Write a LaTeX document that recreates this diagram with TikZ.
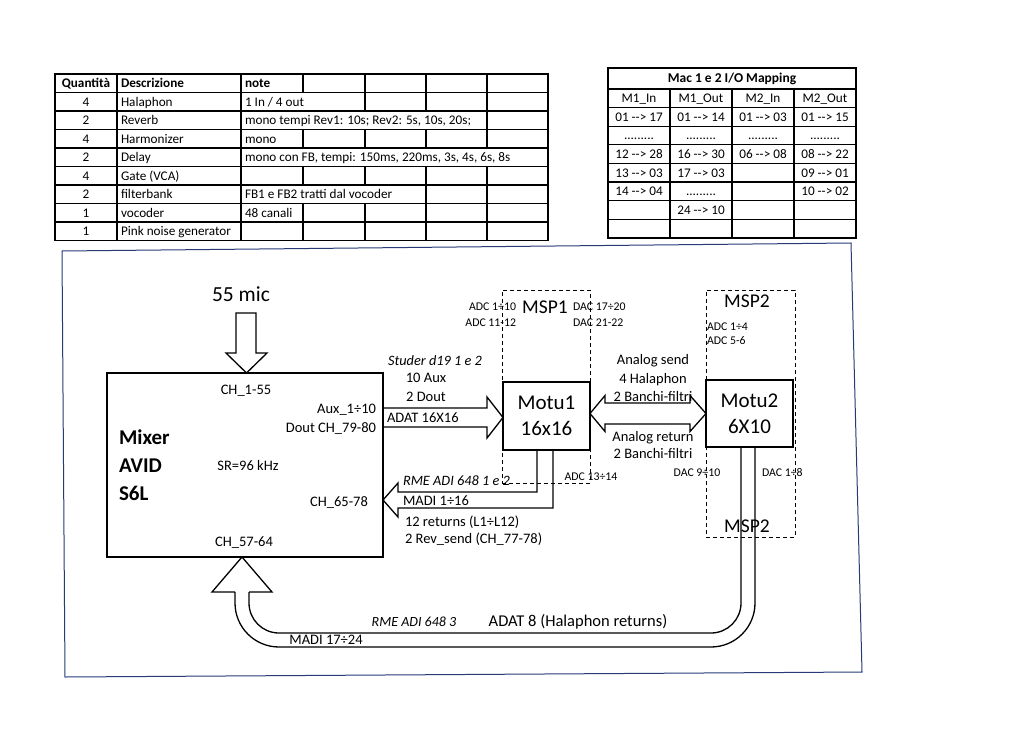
\documentclass[tikz,border=0pt]{standalone}
\usepackage{fontspec}
\setmainfont{Carlito}
\usetikzlibrary{calc}
\definecolor{framecol}{RGB}{38,58,118}
\newcommand{\vp}{\vphantom{Äg}}
\tikzset{
  every node/.style={inner sep=0pt, outer sep=0pt},
  tbl/.style={line width=1.1pt},
  tblout/.style={line width=1.8pt},
  ttxt/.style={font=\fontsize{13.2}{15}\selectfont, execute at begin node=\vp},
  thead/.style={font=\bfseries\fontsize{13.2}{15}\selectfont, execute at begin node=\vp},
  lbl/.style={font=\fontsize{14.5}{17}\selectfont, execute at begin node=\vp},
  ilbl/.style={font=\itshape\fontsize{14.3}{17}\selectfont, execute at begin node=\vp},
  sml/.style={font=\fontsize{11.8}{13}\selectfont, execute at begin node=\vp},
  big/.style={font=\fontsize{21}{26}\selectfont, align=center},
  box/.style={draw, line width=1.6pt, fill=white},
  mspbox/.style={draw, line width=1pt, dash pattern=on 4pt off 3pt},
  fat/.style={line width=1.3pt, line join=miter},
  frame/.style={draw=framecol, line width=1pt}
}
\begin{document}
\begin{tikzpicture}[x=1pt,y=-1pt]
\useasboundingbox (0,0) rectangle (1024,746);

% ---------------- left table ----------------
\draw[tblout] (55,74) rectangle (548,240.5);
\foreach \yy in {92.5,111,129.5,148,166.5,185,203.5,222}
  \draw[tbl] (55,\yy) -- (548,\yy);
\draw[tbl] (117,74) -- (117,240.5);
\draw[tbl] (241,74) -- (241,240.5);
\foreach \xx/\r in {303/0,303/3,303/5,303/7,303/8,
                    365/0,365/1,365/3,365/5,365/7,365/8,
                    426/0,426/1,426/3,426/5,426/6,426/7,426/8,
                    487/0,487/1,487/2,487/3,487/5,487/6,487/7,487/8}
  \draw[tbl] (\xx,{74+18.5*\r}) -- (\xx,{92.5+18.5*\r});

\node[thead] (hq) at (86,83.5) {Quantità};
\node[thead, anchor=west] (hd) at (121,83.5) {Descrizione};
\node[thead, anchor=west] (hn) at (245,83.5) {note};

\node[ttxt] (q1) at (86,102) {4};
\node[ttxt] (q2) at (86,120.5) {2};
\node[ttxt] (q3) at (86,139) {4};
\node[ttxt] (q4) at (86,157.5) {2};
\node[ttxt] (q5) at (86,176) {4};
\node[ttxt] (q6) at (86,194.5) {2};
\node[ttxt] (q7) at (86,213) {1};
\node[ttxt] (q8) at (86,231.5) {1};

\node[ttxt, anchor=west] (d1) at (121,102) {Halaphon};
\node[ttxt, anchor=west] (d2) at (121,120.5) {Reverb};
\node[ttxt, anchor=west] (d3) at (121,139) {Harmonizer};
\node[ttxt, anchor=west] (d4) at (121,157.5) {Delay};
\node[ttxt, anchor=west] (d5) at (121,176) {Gate (VCA)};
\node[ttxt, anchor=west] (d6) at (121,194.5) {filterbank};
\node[ttxt, anchor=west] (d7) at (121,213) {vocoder};
\node[ttxt, anchor=west] (d8) at (121,231.5) {Pink noise generator};

\node[ttxt, anchor=west] (n1) at (245,102) {1 In / 4 out};
\node[ttxt, anchor=west] (n2) at (245,120.5) {mono tempi Rev1: 10s; Rev2: 5s, 10s, 20s;};
\node[ttxt, anchor=west] (n3) at (245,139) {mono};
\node[ttxt, anchor=west] (n4) at (245,157.5) {mono con FB, tempi: 150ms, 220ms, 3s, 4s, 6s, 8s};
\node[ttxt, anchor=west] (n6) at (245,194.5) {FB1 e FB2 tratti dal vocoder};
\node[ttxt, anchor=west] (n7) at (245,213) {48 canali};

% ---------------- right table ----------------
\draw[tblout] (608,68) rectangle (856,237.8);
\draw[tbl] (608,89) -- (856,89);
\foreach \yy in {107.6,126.2,144.8,163.4,182,200.6,219.2}
  \draw[tbl] (608,\yy) -- (856,\yy);
\foreach \xx in {670,732,794}
  \draw[tbl] (\xx,89) -- (\xx,237.8);
\node[font=\bfseries\fontsize{13.5}{15}\selectfont, execute at begin node=\vp] (mt) at (732,78.5) {Mac 1 e 2 I/O Mapping};

\node[ttxt] (h1) at (639,98.5) {M1\_In};
\node[ttxt] (h2) at (701,98.5) {M1\_Out};
\node[ttxt] (h3) at (763,98.5) {M2\_In};
\node[ttxt] (h4) at (825,98.5) {M2\_Out};

\node[ttxt] (a1) at (639,117) {01 -{}-> 17};
\node[ttxt] (a2) at (639,135) {.........};
\node[ttxt] (a3) at (639,154.3) {12 -{}-> 28};
\node[ttxt] (a4) at (639,172.9) {13 -{}-> 03};
\node[ttxt] (a5) at (639,191.5) {14 -{}-> 04};

\node[ttxt] (b1) at (701,117) {01 -{}-> 14};
\node[ttxt] (b2) at (701,135) {.........};
\node[ttxt] (b3) at (701,154.3) {16 -{}-> 30};
\node[ttxt] (b4) at (701,172.9) {17 -{}-> 03};
\node[ttxt] (b5) at (701,191.5) {.........};
\node[ttxt] (b6) at (701,210.1) {24 -{}-> 10};

\node[ttxt] (c1) at (763,117) {01 -{}-> 03};
\node[ttxt] (c2) at (763,135) {.........};
\node[ttxt] (c3) at (763,154.3) {06 -{}-> 08};

\node[ttxt] (e1) at (825,117) {01 -{}-> 15};
\node[ttxt] (e2) at (825,135) {.........};
\node[ttxt] (e3) at (825,154.3) {08 -{}-> 22};
\node[ttxt] (e4) at (825,172.9) {09 -{}-> 01};
\node[ttxt] (e5) at (825,191.5) {10 -{}-> 02};

% ---------------- frame ----------------
\draw[frame] (62,251) -- (851,243) -- (862,672) -- (65,677) -- cycle;

% ---------------- dashed MSP areas ----------------
\node[mspbox, minimum width=88pt, minimum height=193pt] (msp1) at (546,386.5) {};
\node[mspbox, minimum width=89pt, minimum height=247pt] (msp2) at (750.5,413.5) {};

% ---------------- main boxes ----------------
\node[box, minimum width=276pt, minimum height=184pt] (mixer) at (245,465) {};
\node[box, minimum width=87pt, minimum height=68pt] (motu1) at (546.5,416) {};
\node[box, minimum width=87pt, minimum height=67pt] (motu2) at (749.5,413.5) {};

\node[big] (motu1t) at (motu1) {Motu1\\16x16};
\node[big] (motu2t) at (motu2) {Motu2\\6X10};

\node[font=\bfseries\fontsize{21}{28}\selectfont, align=left, anchor=west] (mixt) at (119,465) {Mixer\\AVID\\S6L};
\node[lbl] (ch155) at (246,390) {CH\_1-55};
\node[lbl] (sr) at (248,466) {SR=96 kHz};
\node[lbl] (ch5764) at (244,542) {CH\_57-64};
\node[lbl] (ch6578) at (339,502) {CH\_65-78};
\node[lbl, anchor=east] (aux) at (376,409) {Aux\_1÷10};
\node[lbl, anchor=east] (dout) at (376,428) {Dout CH\_79-80};

% ---------------- 55 mic arrow ----------------
\node[font=\fontsize{21.5}{26}\selectfont, execute at begin node=\vp] (mic) at (241,295) {55 mic};
\draw[fat] (236,313) -- (256,313) -- (256,353) -- (267,353) -- (mixer.north -| 246.5,0) -- (226,353) -- (236,353) -- cycle;

% ---------------- ADAT arrow mixer -> motu1 ----------------
\draw[fat] (mixer.east |- 0,408) -- (487,408) -- (487,397) -- (motu1.west |- 0,417.5)
  -- (487,438) -- (487,427) -- (mixer.east |- 0,427);
\node[ilbl] (studer) at (435,361) {Studer d19 1 e 2};
\node[lbl] (aux10) at (426,378) {10 Aux};
\node[lbl] (dout2) at (426,397) {2 Dout};
\node[lbl, anchor=west] (adat16) at (387,418) {ADAT 16X16};

% ---------------- MADI arrow motu1 -> mixer ----------------
\draw[fat] (motu1.south -| 537,0) -- (537,492) -- (398,492) -- (398,483) -- (mixer.east |- 0,500)
  -- (398,517) -- (398,508) -- (553,508) -- (motu1.south -| 553,0);
\node[ilbl, anchor=west] (rme12) at (403,481) {RME ADI 648 1 e 2};
\node[lbl, anchor=west] (madi116) at (403,501) {MADI 1÷16};
\node[lbl, anchor=west] (ret12) at (405,522) {12 returns (L1÷L12)};
\node[lbl, anchor=west] (revs) at (405,539) {2 Rev\_send (CH\_77-78)};

% ---------------- MSP1 labels ----------------
\node[font=\fontsize{19.5}{22}\selectfont, execute at begin node=\vp] (msp1t) at (545,307) {MSP1};
\node[sml, anchor=east] (adc110) at (516,307) {ADC 1÷10};
\node[sml, anchor=east] (adc1112) at (516,323) {ADC 11-12};
\node[sml, anchor=west] (dac1720) at (573,307) {DAC 17÷20};
\node[sml, anchor=west] (dac2122) at (573,323) {DAC 21-22};
\node[sml] (adc1314) at (591,477) {ADC 13÷14};

% ---------------- double arrow motu1 <-> motu2 ----------------
\draw[fat] (605,403) -- (690,403) -- (690,395.5) -- (motu2.west |- 0,413.5) -- (690,431.5)
  -- (690,424) -- (605,424) -- (605,431.5) -- (motu1.east |- 0,413.5) -- (605,395.5) -- cycle;
\node[lbl] (asend) at (653,360) {Analog send};
\node[lbl] (hal4) at (653,379) {4 Halaphon};
\node[lbl] (banchi1) at (653,397) {2 Banchi-filtri};
\node[lbl] (aret) at (653,437) {Analog return};
\node[lbl] (banchi2) at (653,454) {2 Banchi-filtri};

% ---------------- MSP2 labels ----------------
\node[font=\fontsize{19.5}{22}\selectfont, execute at begin node=\vp] (msp2t) at (747,301) {MSP2};
\node[sml, anchor=west] (adc14) at (707,327) {ADC 1÷4};
\node[sml, anchor=west] (adc56) at (707,341) {ADC 5-6};
\node[sml] (dac910) at (697,473) {DAC 9÷10};
\node[sml, anchor=west] (dac18) at (762,473) {DAC 1÷8};
\node[font=\fontsize{19.5}{22}\selectfont, execute at begin node=\vp] (msp2b) at (747,526) {MSP2};

% ---------------- ADAT 8 return arrow motu2 -> mixer ----------------
\draw[fat, rounded corners=44pt] (motu2.south -| 755,0) -- (755,647) -- (235,647) -- (235,592);
\draw[fat, rounded corners=30pt] (motu2.south -| 741,0) -- (741,633) -- (249,633) -- (249,592);
\draw[fat] (235,592) -- (212,592) -- (mixer.south -| 242,0) -- (272,592) -- (249,592);
\node[font=\itshape\fontsize{14}{17}\selectfont, execute at begin node=\vp] (rme3) at (414,622) {RME ADI 648 3};
\node[font=\fontsize{16.5}{19}\selectfont, execute at begin node=\vp] (adat8) at (578,621) {ADAT 8 (Halaphon returns)};
\node[lbl] (madi1724) at (326,640) {MADI 17÷24};

\end{tikzpicture}
\end{document}
